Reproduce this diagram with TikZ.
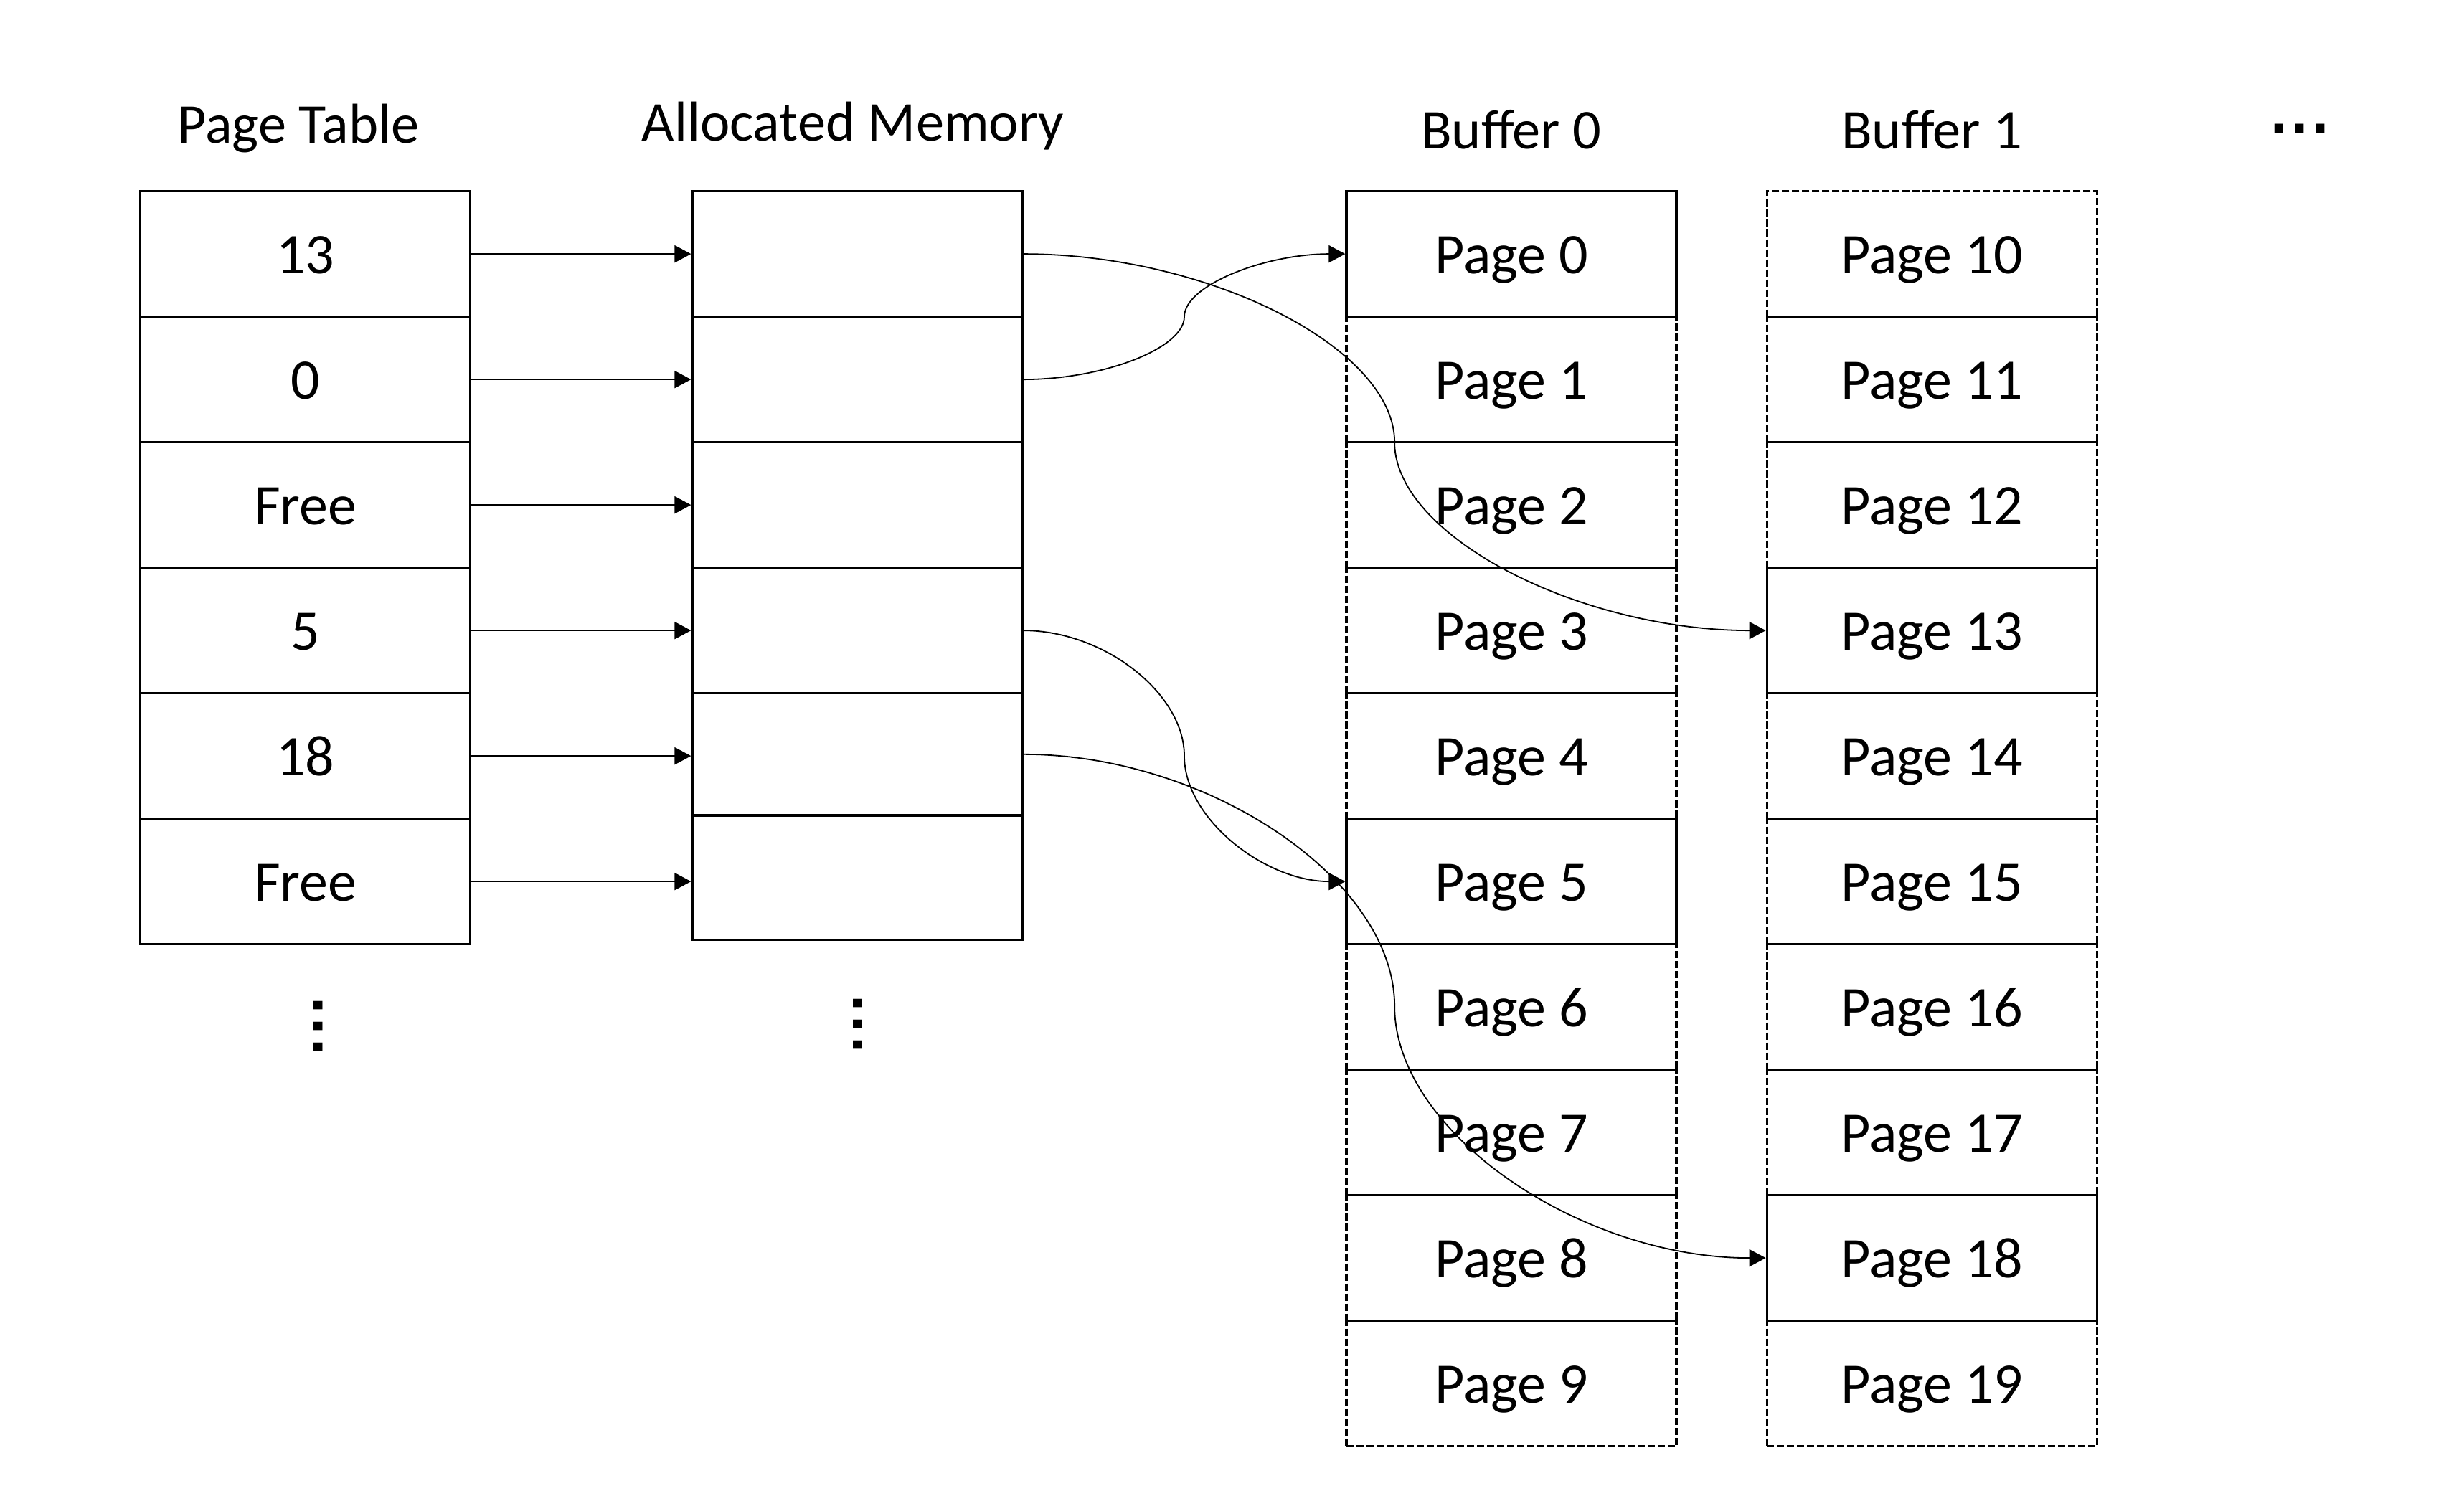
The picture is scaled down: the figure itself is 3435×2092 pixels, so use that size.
\documentclass[tikz,border=0pt]{standalone}
\usepackage{fontspec}
\setmainfont{Carlito}
\newfontfamily\dotsfam{DejaVu Sans}
\usetikzlibrary{arrows.meta,calc}
\newcommand{\cellfont}{\fontsize{20}{24}\selectfont}
\newcommand{\titlefont}{\fontsize{19.6}{24}\selectfont}
\newcommand{\dotsfont}{\dotsfam\bfseries\fontsize{16.5}{20}\selectfont}
\newcommand{\pptcurve}[2]{%
  \draw[curveconn] let \p1=(#1), \p2=(#2) in
   (\p1) .. controls ({0.75*\x1+0.25*\x2},\y1) and ({0.5*\x1+0.5*\x2},{0.75*\y1+0.25*\y2})
   .. ({0.5*\x1+0.5*\x2},{0.5*\y1+0.5*\y2})
   .. controls ({0.5*\x1+0.5*\x2},{0.25*\y1+0.75*\y2}) and ({0.25*\x1+0.75*\x2},\y2)
   .. (\p2);}
\tikzset{
  cell/.style={draw, line width=0.8pt, minimum width=115pt, minimum height=43.75pt,
    inner sep=0pt, text height=17.5pt, text depth=3.9pt, font=\cellfont},
  dcell/.style={cell, dash pattern=on 2.5pt off 1pt},
  title/.style={anchor=base, font=\titlefont, inner sep=0pt},
  conn/.style={line width=0.55pt, -{Triangle[length=5.75pt,width=6pt]}},
  curveconn/.style={conn, line width=0.45pt},
  dotsnode/.style={font=\dotsfont, inner sep=0pt}
}
\begin{document}
\begin{tikzpicture}[x=0.25pt,y=-0.25pt]
\useasboundingbox (0,0) rectangle (3435,2092);
% titles
\node[title] (ttab) at (416,199) {Page Table};
\node[title] (talloc) at (1189,196) {Allocated Memory};
\node[title] (tb0) at (2107,207) {Buffer 0};
\node[title] (tb1) at (2693,207) {Buffer 1};
\node[dotsnode] (hdots) at (3206,179.5) {.\kern0.9pt.\kern0.9pt.};
% page table
\foreach \i/\t in {0/13,1/0,2/Free,3/5,4/18,5/Free}
  \node[cell] (t\i) at (425.75,{354.1+175*\i}) {\t};
% allocated memory
\foreach \i in {0,1,2,3}
  \node[cell] (a\i) at (1195,{354.1+175*\i}) {};
\node[cell, minimum height=42.6pt] (a4) at (1195,1051.8) {};
\node[cell, minimum height=43.375pt] (a5) at (1195,1223.75) {};
% vertical dots
\node[dotsnode, rotate=-90] (vd1) at (443.5,1431) {.\kern0.9pt.\kern0.9pt.};
\node[dotsnode, rotate=-90] (vd2) at (1196,1428) {.\kern0.9pt.\kern0.9pt.};
% buffer 0
\foreach \i in {1,2,3,4,6,7,8,9}
  \node[dcell] (b\i) at (2107,{354.1+175*\i}) {Page \i};
\foreach \i in {0,5}
  \node[cell] (b\i) at (2107,{354.1+175*\i}) {Page \i};
% buffer 1
\foreach \i/\n in {0/10,1/11,2/12,4/14,5/15,6/16,7/17,9/19}
  \node[dcell] (c\i) at (2693.25,{354.1+175*\i}) {Page \n};
\foreach \i/\n in {3/13,8/18}
  \node[cell] (c\i) at (2693.25,{354.1+175*\i}) {Page \n};
% straight connectors
\foreach \i in {0,...,5}
  \draw[conn] (t\i.east) -- (t\i.east -| a\i.west);
% curved connectors
\pptcurve{a0.east}{c3.west}
\pptcurve{a1.east}{b0.west}
\pptcurve{a3.east}{b5.west}
\pptcurve{a4.east}{c8.west}
\end{tikzpicture}
\end{document}
